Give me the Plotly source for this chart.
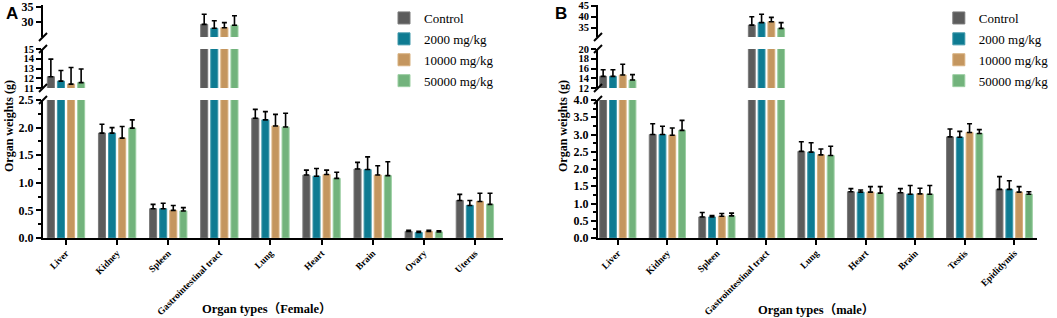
import plotly.graph_objects as go

series = ["Control", "2000 mg/kg", "10000 mg/kg", "50000 mg/kg"]
colors = ["#5c5c5c", "#0e7b92", "#c4965f", "#72b37c"]
edge_colors = ["#7a7a7a", "#3f98aa", "#d7b07f", "#9bcfa2"]

female_organs = ["Liver", "Kidney", "Spleen", "Gastrointestinal tract", "Lung",
                 "Heart", "Brain", "Ovary", "Uterus"]
female_control = [12.16, 1.90, 0.53, 29.2, 2.17, 1.14, 1.25, 0.12, 0.68]
female_control_sd = [1.8, 0.16, 0.08, 3.4, 0.16, 0.09, 0.12, 0.02, 0.11]
female_2000 = [11.7, 1.90, 0.53, 27.9, 2.14, 1.12, 1.24, 0.10, 0.59]
female_2000_sd = [1.1, 0.10, 0.10, 2.5, 0.15, 0.14, 0.23, 0.02, 0.09]
female_10000 = [11.4, 1.81, 0.50, 28.1, 2.03, 1.15, 1.14, 0.12, 0.66]
female_10000_sd = [1.7, 0.21, 0.09, 1.7, 0.21, 0.08, 0.17, 0.02, 0.15]
female_50000 = [11.55, 1.99, 0.49, 28.9, 2.01, 1.08, 1.13, 0.11, 0.61]
female_50000_sd = [1.4, 0.15, 0.06, 3.2, 0.25, 0.11, 0.25, 0.02, 0.20]

male_organs = ["Liver", "Kidney", "Spleen", "Gastrointestinal tract", "Lung",
               "Heart", "Brain", "Testis", "Epididymis"]
male_control = [14.38, 3.00, 0.61, 36.2, 2.51, 1.34, 1.31, 2.93, 1.41]
male_control_sd = [1.37, 0.31, 0.13, 3.8, 0.28, 0.09, 0.12, 0.23, 0.37]
male_2000 = [14.38, 3.00, 0.61, 37.3, 2.49, 1.33, 1.27, 2.92, 1.41]
male_2000_sd = [1.37, 0.24, 0.04, 3.8, 0.27, 0.06, 0.25, 0.17, 0.25]
male_10000 = [14.66, 2.98, 0.63, 37.7, 2.41, 1.33, 1.28, 3.06, 1.33]
male_10000_sd = [2.2, 0.21, 0.08, 2.0, 0.17, 0.16, 0.16, 0.25, 0.16]
male_50000 = [13.64, 3.12, 0.64, 34.7, 2.39, 1.30, 1.27, 3.03, 1.27]
male_50000_sd = [1.1, 0.29, 0.08, 2.6, 0.27, 0.19, 0.25, 0.11, 0.07]

female_values = [female_control, female_2000, female_10000, female_50000]
female_sds = [female_control_sd, female_2000_sd, female_10000_sd, female_50000_sd]
male_values = [male_control, male_2000, male_10000, male_50000]
male_sds = [male_control_sd, male_2000_sd, male_10000_sd, male_50000_sd]

W, H = 1057, 318


def py(y):
    return 1 - y / H


dom_bot = [py(238), py(100)]
dom_mid = [py(88), py(49)]
dom_top = [py(37), py(5)]

SERIF = "Liberation Serif, Times New Roman, Noto Sans CJK SC, serif"

fig = go.Figure()

panels = [
    dict(organs=female_organs, values=female_values, sds=female_sds,
         xname="x", ynames=["y", "y2", "y3"], legend="legend"),
    dict(organs=male_organs, values=male_values, sds=male_sds,
         xname="x2", ynames=["y4", "y5", "y6"], legend="legend2"),
]

for p in panels:
    for seg, yname in enumerate(p["ynames"]):
        for i, name in enumerate(series):
            fig.add_trace(go.Bar(
                x=list(range(len(p["organs"]))), y=p["values"][i],
                name=name, xaxis=p["xname"], yaxis=yname,
                marker=dict(color=colors[i], line=dict(color=edge_colors[i], width=1)),
                error_y=dict(type="data", symmetric=False, array=p["sds"][i],
                             arrayminus=[0] * len(p["sds"][i]),
                             color="black", thickness=1.6, width=2.5),
                showlegend=(seg == 0), legend=p["legend"], legendgroup=p["legend"] + name,
                hoverinfo="skip",
            ))

axis_common = dict(showline=True, linecolor="black", linewidth=2, ticks="outside",
                   ticklen=5, tickwidth=2, tickcolor="black", showgrid=False,
                   zeroline=False, automargin=False, ticklabeloverflow="allow",
                   tickfont=dict(family=SERIF, size=12, color="black", weight="bold"))

mid_font = dict(family=SERIF, size=10.5, color="black", weight="bold")

x_common = dict(axis_common)
x_common.update(tickmode="array", tickangle=-45, ticklabelstandoff=-1,
                tickfont=dict(family=SERIF, size=9.5, color="black", weight="bold"))

fig.update_layout(
    xaxis=dict(x_common, domain=[43 / W, 503 / W], range=[-0.45, 8.55], anchor="y",
               tickvals=list(range(9)), ticktext=female_organs),
    xaxis2=dict(x_common, domain=[598 / W, 1037 / W], range=[-0.4, 8.46], anchor="y4",
                tickvals=list(range(9)), ticktext=male_organs),
    yaxis=dict(axis_common, domain=dom_bot, range=[0, 2.5], anchor="x", dtick=0.5,
               tickformat=".1f", minor=dict(dtick=0.25, ticks="outside", ticklen=3,
                                            tickwidth=1.5, tickcolor="black")),
    yaxis2=dict(axis_common, domain=dom_mid, range=[11, 15], anchor="x", dtick=1,
                tickfont=mid_font),
    yaxis3=dict(axis_common, domain=dom_top, range=[25, 35.67], anchor="x",
                tickvals=[30, 35]),
    yaxis4=dict(axis_common, domain=dom_bot, range=[0, 4.0], anchor="x2", dtick=0.5,
                tickformat=".1f", minor=dict(dtick=0.25, ticks="outside", ticklen=3,
                                             tickwidth=1.5, tickcolor="black")),
    yaxis5=dict(axis_common, domain=dom_mid, range=[12, 20], anchor="x2", dtick=2,
                tickfont=mid_font),
    yaxis6=dict(axis_common, domain=dom_top, range=[30.8, 45.3], anchor="x2", dtick=5,
                tickfont=mid_font),
    barmode="group", bargap=0.21, bargroupgap=0.3,
    width=W, height=H, margin=dict(l=0, r=0, t=0, b=0, autoexpand=False),
    plot_bgcolor="white", paper_bgcolor="white",
    legend=dict(x=0.3633, y=py(3), xanchor="left", yanchor="top",
                font=dict(family=SERIF, size=13, color="black"),
                bgcolor="rgba(0,0,0,0)", traceorder="grouped", tracegroupgap=1,
                itemwidth=30),
    legend2=dict(x=0.8882, y=py(3), xanchor="left", yanchor="top",
                 font=dict(family=SERIF, size=13, color="black"),
                 bgcolor="rgba(0,0,0,0)", traceorder="grouped", tracegroupgap=1,
                 itemwidth=30),
)

# axis break marks
shapes = []
for p in panels:
    for yname, ends in zip(p["ynames"], [[1], [0, 1], [0]]):
        for e in ends:
            shapes.append(dict(type="line", xref=p["xname"] + " domain",
                               yref=yname + " domain",
                               xsizemode="pixel", ysizemode="pixel",
                               xanchor=0, yanchor=e,
                               x0=-4, x1=4, y0=-4, y1=4,
                               line=dict(color="black", width=2)))
fig.update_layout(shapes=shapes)

annos = [
    dict(text="A", x=4 / W, y=py(2), xanchor="left", yanchor="top",
         font=dict(family="Liberation Sans, Arial", size=17, color="black", weight="bold")),
    dict(text="B", x=553 / W, y=py(2), xanchor="left", yanchor="top",
         font=dict(family="Liberation Sans, Arial", size=17, color="black", weight="bold")),
    dict(text="Organ weights (g)", x=9 / W, y=py(126), textangle=-90,
         xanchor="center", yanchor="middle",
         font=dict(family=SERIF, size=12, color="black", weight="bold")),
    dict(text="Organ weights (g)", x=563 / W, y=py(126), textangle=-90,
         xanchor="center", yanchor="middle",
         font=dict(family=SERIF, size=12, color="black", weight="bold")),
    dict(text="Organ types（Female）", x=267 / W, y=py(309),
         xanchor="center", yanchor="middle",
         font=dict(family=SERIF, size=12.5, color="black", weight="bold")),
    dict(text="Organ types（male）", x=816 / W, y=py(310),
         xanchor="center", yanchor="middle",
         font=dict(family=SERIF, size=12.5, color="black", weight="bold")),
]
for a in annos:
    a.update(xref="paper", yref="paper", showarrow=False)
fig.update_layout(annotations=annos)

fig.write_html("out.html", config={"displayModeBar": False},
               post_script="document.body.style.margin='0';"
                           "document.body.style.overflow='hidden';")
